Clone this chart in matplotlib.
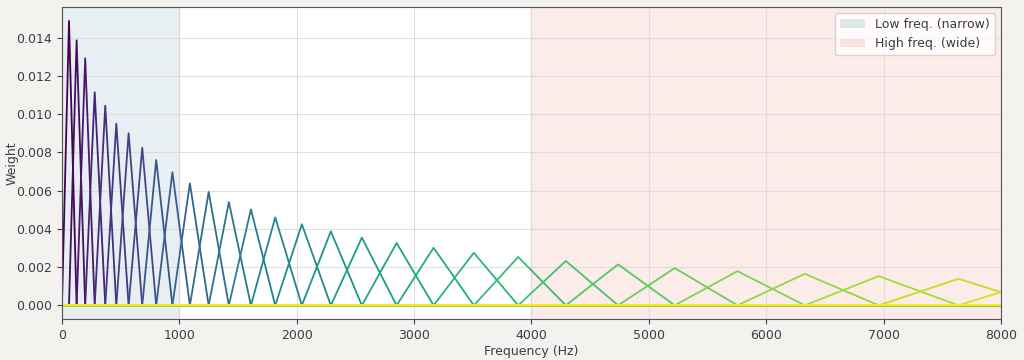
import matplotlib
matplotlib.use("Agg")
import matplotlib.pyplot as plt
import numpy as np
from matplotlib.patches import Patch

# filter edge / peak frequencies (Hz), filter k spans edge[k-1]..edge[k+1]
edges_hz = [0, 60, 125, 198, 279, 369, 463, 568, 684, 803, 941,
            1090, 1250, 1422, 1610, 1817, 2044, 2291, 2555, 2851, 3166,
            3509, 3887, 4293, 4738, 5221, 5755, 6329, 6959, 7638,
            8359, 9171, 10060, 11025]
# peak weights of each filter
peaks = [0.01487, 0.01386, 0.01292, 0.01114, 0.01044, 0.00950, 0.00900, 0.00824,
         0.00760, 0.00696, 0.00638, 0.00593, 0.00540, 0.00502, 0.00460, 0.00424,
         0.00387, 0.00354, 0.00326, 0.00301, 0.00275, 0.00253, 0.00232, 0.00214,
         0.00195, 0.00179, 0.00165, 0.00153, 0.00139, 0.00138, 0.00120, 0.00108]

low_band = (0, 1000)
high_band = (4000, 8000)

bg = "#f3f2ee"
txt = "#3a3d4a"

fig = plt.figure(figsize=(10.24, 3.6), dpi=100, facecolor=bg)
ax = fig.add_axes([0.0605, 0.113, 0.917, 0.868])
ax.set_facecolor("white")

ax.axvspan(*low_band, color="#6a9aa8", alpha=0.15, zorder=0)
ax.axvspan(*high_band, color="#e8806f", alpha=0.15, zorder=0)

n = len(peaks)
cmap = plt.get_cmap("viridis")
for k in range(n):
    # each filter drawn over the full axis, zero outside its triangle
    xs = [0, edges_hz[k], edges_hz[k + 1], edges_hz[k + 2], edges_hz[-1]]
    ys = [0, 0, peaks[k], 0, 0]
    ax.plot(xs, ys, color=cmap(k / (n - 1)), lw=1.3, zorder=2)

ax.set_xlim(0, 8000)
ax.set_ylim(-0.00073, 0.01561)
ax.set_yticks(np.arange(0, 0.0141, 0.002))
ax.yaxis.set_major_formatter(matplotlib.ticker.FormatStrFormatter("%.3f"))
ax.grid(True, color="#d8d8d8", lw=0.8, alpha=0.8, zorder=1)
ax.set_axisbelow(True)

ax.set_xlabel("Frequency (Hz)", color=txt, fontsize=9)
ax.set_ylabel("Weight", color=txt, fontsize=9)
ax.yaxis.set_label_coords(-0.046, 0.5)
ax.xaxis.set_label_coords(0.5, -0.083)
ax.tick_params(colors=txt, labelsize=9)
for s in ax.spines.values():
    s.set_color("#555555")

handles = [Patch(facecolor="#6a9aa8", alpha=0.2, label="Low freq. (narrow)"),
           Patch(facecolor="#e8806f", alpha=0.2, label="High freq. (wide)")]
leg = ax.legend(handles=handles, loc="upper right", fontsize=9, frameon=True)
for t in leg.get_texts():
    t.set_color(txt)

fig.savefig("out.png", dpi=100, facecolor=bg)
